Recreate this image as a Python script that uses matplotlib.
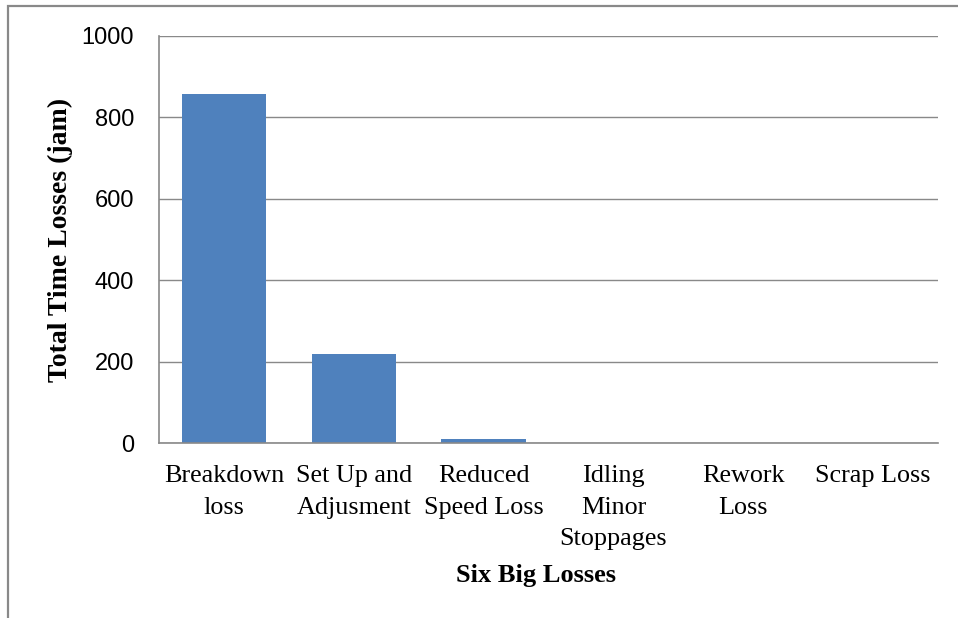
import numpy as np
import matplotlib.pyplot as plt
from matplotlib.patches import Rectangle

# Data
categories = ["Breakdown\nloss", "Set Up and\nAdjusment", "Reduced\nSpeed Loss",
              "Idling\nMinor\nStoppages", "Rework\nLoss", "Scrap Loss"]
values = [857, 219, 11, 0, 0, 0]
yticks = [0, 200, 400, 600, 800, 1000]

grey = "#898989"
bar_col = "#4f81bd"

fig = plt.figure(figsize=(9.58, 6.18), dpi=100)

# outer chart frame (cropped at right/bottom)
frame = Rectangle((8 / 958, -0.1), 1.2, 1 - 6 / 618 + 0.1, transform=fig.transFigure,
                  fill=False, edgecolor=grey, linewidth=1.6, clip_on=False)
fig.patches.append(frame)

ax = fig.add_axes([159 / 958, 1 - 443 / 618, (938 - 159) / 958, (443 - 36) / 618])
x = np.arange(len(categories))
ax.bar(x, values, width=0.65, color=bar_col, zorder=3)

ax.set_xlim(-0.5, len(categories) - 0.5)
ax.set_ylim(0, 1000)
ax.set_yticks(yticks)
ax.set_yticklabels([str(v) for v in yticks], family="Liberation Sans", fontsize=17)
ax.set_xticks(x)
ax.set_xticklabels(categories, family="Liberation Serif", fontsize=18.8,
                   multialignment="center", linespacing=1.55)
ax.tick_params(axis="y", length=0, pad=18)
ax.tick_params(axis="x", length=0, pad=16)

ax.yaxis.grid(True, color=grey, linewidth=1.0, zorder=0)
for s in ["top", "right"]:
    ax.spines[s].set_visible(False)
for s in ["left", "bottom"]:
    ax.spines[s].set_color(grey)
    ax.spines[s].set_linewidth(1.2)
ax.spines["bottom"].set_zorder(4)

ax.set_ylabel("Total Time Losses (jam)", family="Liberation Serif", fontsize=20,
              fontweight="bold", labelpad=6)
ax.set_xlabel("Six Big Losses", family="Liberation Serif", fontsize=19,
              fontweight="bold", labelpad=10, x=0.484)

fig.savefig("out.png", dpi=100)
